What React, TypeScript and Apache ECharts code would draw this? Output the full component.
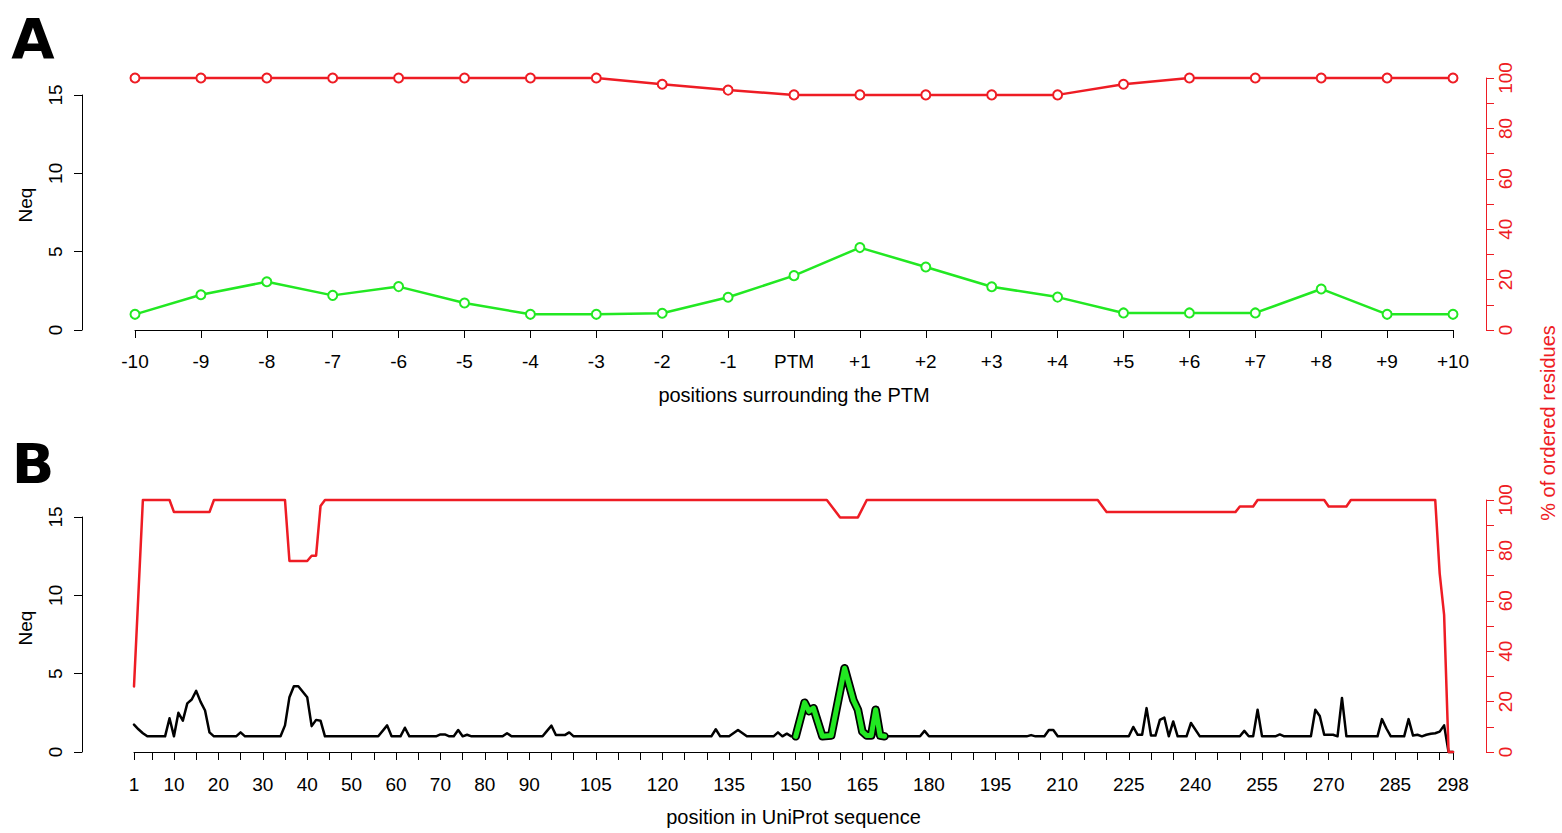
import React, { useEffect, useRef } from 'react';
import * as echarts from 'echarts';

// ---------- Panel A data ----------
const posLabelsA = ['-10', '-9', '-8', '-7', '-6', '-5', '-4', '-3', '-2', '-1', 'PTM',
  '+1', '+2', '+3', '+4', '+5', '+6', '+7', '+8', '+9', '+10'];
const neqA = [1.0, 2.25, 3.08, 2.21, 2.77, 1.72, 1.0, 1.0, 1.07, 2.09, 3.47,
  5.26, 4.02, 2.76, 2.1, 1.09, 1.09, 1.09, 2.62, 1.0, 1.0];
const pctOrderedA = [100, 100, 100, 100, 100, 100, 100, 100, 97.5, 95.2, 93.3,
  93.3, 93.3, 93.3, 93.3, 97.5, 100, 100, 100, 100, 100];

// ---------- Panel B data: [position, value] ----------
const neqB: [number, number][] = [
  [1, 1.75], [2, 1.45], [3, 1.2], [4, 1.0], [8, 1.0], [9, 2.15], [10, 1.0], [11, 2.5], [12, 2.0],
  [13, 3.1], [14, 3.35], [15, 3.9], [16, 3.2], [17, 2.65], [18, 1.25], [19, 1.0], [24, 1.0],
  [25, 1.25], [26, 1.0], [34, 1.0], [35, 1.7], [36, 3.5], [37, 4.2], [38, 4.2], [39, 3.85],
  [40, 3.5], [41, 1.65], [42, 2.05], [43, 2.0], [44, 1.0], [56, 1.0], [58, 1.7], [59, 1.0],
  [61, 1.0], [62, 1.55], [63, 1.0], [69, 1.0], [70, 1.12], [71, 1.12], [72, 1.0], [73, 1.0],
  [74, 1.4], [75, 1.0], [76, 1.1], [77, 1.0], [84, 1.0], [85, 1.2], [86, 1.0], [93, 1.0],
  [94, 1.35], [95, 1.68], [96, 1.08], [98, 1.08], [99, 1.25], [100, 1.0], [131, 1.0],
  [132, 1.45], [133, 1.0], [135, 1.0], [137, 1.4], [139, 1.0], [145, 1.0], [146, 1.25],
  [147, 1.0], [148, 1.17], [149, 1.0], [150, 1.0], [152, 3.15], [153, 2.6], [154, 2.8],
  [156, 1.0], [158, 1.05], [161, 5.35], [163, 3.3], [164, 2.7], [165, 1.3], [166, 1.05],
  [167, 1.05], [168, 2.7], [169, 1.05], [170, 1.0], [178, 1.0], [179, 1.35], [180, 1.0],
  [202, 1.0], [203, 1.08], [204, 1.0], [206, 1.0], [207, 1.4], [208, 1.4], [209, 1.0],
  [225, 1.0], [226, 1.6], [227, 1.1], [228, 1.1], [229, 2.8], [230, 1.05], [231, 1.05],
  [232, 2.05], [233, 2.2], [234, 1.0], [235, 1.95], [236, 1.0], [238, 1.0], [239, 1.85],
  [241, 1.0], [250, 1.0], [251, 1.35], [252, 1.0], [253, 1.0], [254, 2.7], [255, 1.0],
  [258, 1.0], [259, 1.12], [260, 1.0], [266, 1.0], [267, 2.7], [268, 2.3], [269, 1.1],
  [271, 1.1], [272, 1.0], [273, 3.45], [274, 1.0], [281, 1.0], [282, 2.1], [283, 1.5],
  [284, 1.0], [287, 1.0], [288, 2.1], [289, 1.05], [290, 1.1], [291, 1.0], [292, 1.1],
  [293, 1.17], [294, 1.2], [295, 1.3], [296, 1.7], [297, 0], [298, 0],
];
const pctOrderedB: [number, number][] = [
  [1, 26], [2, 63], [3, 100], [9, 100], [10, 95.2], [18, 95.2], [19, 100], [35, 100],
  [36, 75.8], [40, 75.8], [41, 77.9], [42, 77.9], [43, 97.6], [44, 100], [157, 100],
  [160, 93.1], [164, 93.1], [166, 100], [218, 100], [220, 95.2], [249, 95.2], [250, 97.4],
  [253, 97.4], [254, 100], [269, 100], [270, 97.4], [274, 97.4], [275, 100], [294, 100],
  [295, 70.9], [296, 54.4], [297, 0], [298, 0],
];
const ptmWindowB = [150, 170];
const tickValuesB = [1, 5, 10, 15, 20, 25, 30, 35, 40, 45, 50, 55, 60, 65, 70, 75, 80, 85, 90,
  95, 100, 105, 110, 115, 120, 125, 130, 135, 140, 145, 150, 155, 160, 165, 170, 175, 180,
  185, 190, 195, 200, 205, 210, 215, 220, 225, 230, 235, 240, 245, 250, 255, 260, 265, 270,
  275, 280, 285, 290, 295, 298];
const labelValuesB = [1, 10, 20, 30, 40, 50, 60, 70, 80, 90, 105, 120, 135, 150, 165, 180,
  195, 210, 225, 240, 255, 270, 285, 298];

const FONT = "'Liberation Sans', Arial, sans-serif";
const RED = '#ee1c24';
const GREEN = '#22e822';
const BLACK = '#000000';

function buildOption(): any {
  const tickFont = { fontSize: 19, color: BLACK, fontFamily: FONT };
  const leftAxis = (grid: number, offset: number) => ({
    gridIndex: grid, type: 'value', min: 0, max: 15, interval: 5, position: 'left', offset,
    axisLine: { show: true, lineStyle: { color: BLACK, width: 1 } },
    axisTick: { show: true, length: 8, lineStyle: { color: BLACK, width: 1 } },
    axisLabel: { ...tickFont, rotate: 90, margin: 17 },
    splitLine: { show: false },
  });
  const rightAxis = (grid: number) => ({
    gridIndex: grid, type: 'value', min: 0, max: 100, interval: 10, position: 'right', offset: 33,
    axisLine: { show: true, lineStyle: { color: RED, width: 1 } },
    axisTick: { show: true, length: 8, lineStyle: { color: RED, width: 1 } },
    axisLabel: {
      fontSize: 19, color: RED, fontFamily: FONT, rotate: 90, margin: 10,
      formatter: (v: number) => (v % 20 === 0 ? String(v) : ''),
    },
    splitLine: { show: false },
  });
  const inWindow = neqB.filter(([p]) => p >= ptmWindowB[0] && p <= ptmWindowB[1]);
  const txt = (text: string, x: number, y: number, font: string, fill: string, rotation = 0) => ({
    type: 'text', x, y, rotation,
    style: { text, font, fill, textAlign: 'center', textVerticalAlign: 'middle', align: 'center', verticalAlign: 'middle' },
  });

  return {
    animation: false,
    backgroundColor: '#ffffff',
    grid: [
      { left: 135, width: 1318, top: 95, height: 235 },
      { left: 135, width: 1318, top: 78, height: 252 },
      { left: 134, width: 1319, top: 517, height: 235 },
      { left: 134, width: 1319, top: 500, height: 252 },
    ],
    xAxis: [
      { gridIndex: 0, type: 'category', data: posLabelsA, boundaryGap: false, show: false },
      {
        gridIndex: 1, type: 'category', data: posLabelsA, boundaryGap: false, offset: 10,
        axisLine: { show: true, lineStyle: { color: BLACK, width: 1 } },
        axisTick: { show: true, length: 8, lineStyle: { color: BLACK, width: 1 } },
        axisLabel: { ...tickFont, margin: 12, interval: 0 },
        splitLine: { show: false },
        name: 'positions surrounding the PTM', nameLocation: 'middle', nameGap: 45,
        nameTextStyle: { fontSize: 20, color: BLACK, fontFamily: FONT },
      },
      { gridIndex: 2, type: 'value', min: 1, max: 298, show: false },
      {
        gridIndex: 3, type: 'value', min: 1, max: 298, offset: 11,
        axisLine: { show: true, lineStyle: { color: BLACK, width: 1 } },
        axisTick: { show: true, length: 8, customValues: tickValuesB, lineStyle: { color: BLACK, width: 1 } },
        axisLabel: { ...tickFont, margin: 12, customValues: labelValuesB },
        splitLine: { show: false },
        name: 'position in UniProt sequence', nameLocation: 'middle', nameGap: 44,
        nameTextStyle: { fontSize: 20, color: BLACK, fontFamily: FONT },
      },
    ],
    yAxis: [
      leftAxis(0, 53),
      rightAxis(1),
      leftAxis(2, 52),
      rightAxis(3),
    ],
    series: [
      {
        name: 'Neq (PTM window)', type: 'line', xAxisIndex: 0, yAxisIndex: 0, data: neqA,
        symbol: 'circle', symbolSize: 9, clip: false,
        itemStyle: { color: '#ffffff', borderColor: GREEN, borderWidth: 2 },
        lineStyle: { color: GREEN, width: 2.5 },
      },
      {
        name: '% ordered (PTM window)', type: 'line', xAxisIndex: 1, yAxisIndex: 1, data: pctOrderedA,
        symbol: 'circle', symbolSize: 9, clip: false,
        itemStyle: { color: '#ffffff', borderColor: RED, borderWidth: 2 },
        lineStyle: { color: RED, width: 2.5 },
      },
      {
        name: 'Neq', type: 'line', xAxisIndex: 2, yAxisIndex: 2, data: neqB, showSymbol: false,
        clip: false, lineStyle: { color: BLACK, width: 2.5, join: 'round', cap: 'round' },
      },
      {
        name: 'PTM outline', type: 'line', xAxisIndex: 2, yAxisIndex: 2, data: inWindow, showSymbol: false,
        clip: false, lineStyle: { color: BLACK, width: 8.5, join: 'round', cap: 'round' },
      },
      {
        name: 'PTM region', type: 'line', xAxisIndex: 2, yAxisIndex: 2, data: inWindow, showSymbol: false,
        clip: false, lineStyle: { color: GREEN, width: 5, join: 'round', cap: 'round' },
      },
      {
        name: '% ordered', type: 'line', xAxisIndex: 3, yAxisIndex: 3, data: pctOrderedB, showSymbol: false,
        clip: false, lineStyle: { color: RED, width: 2.5, join: 'round', cap: 'round' },
      },
    ],
    graphic: [
      txt('A', 33, 38, "bold 56px 'DejaVu Sans', sans-serif", BLACK),
      txt('B', 33, 463, "bold 56px 'DejaVu Sans', sans-serif", BLACK),
      txt('Neq', 25, 205, `19px ${FONT}`, BLACK, Math.PI / 2),
      txt('Neq', 25, 628, `19px ${FONT}`, BLACK, Math.PI / 2),
      txt('% of ordered residues', 1548, 423, `20px ${FONT}`, RED, Math.PI / 2),
    ],
  };
}

export default function App() {
  const ref = useRef<HTMLDivElement>(null);
  useEffect(() => {
    if (!ref.current) return;
    const chart = echarts.init(ref.current, null, { renderer: 'svg' });
    chart.setOption(buildOption());
    return () => chart.dispose();
  }, []);
  return (
    <div
      ref={ref}
      style={{ position: 'fixed', left: 0, top: 0, width: 1562, height: 833, background: '#ffffff' }}
    />
  );
}
